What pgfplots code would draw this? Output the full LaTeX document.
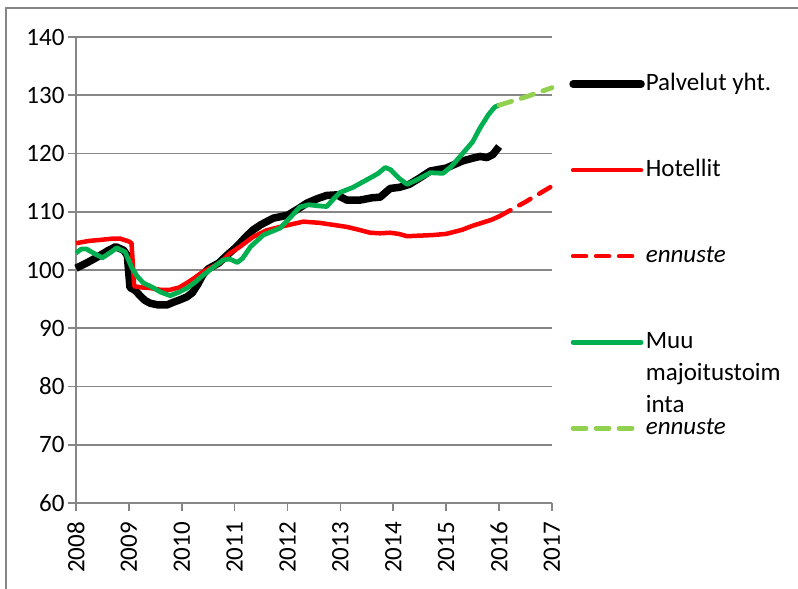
\documentclass[border=0pt]{standalone}
\usepackage{pgfplots}
\pgfplotsset{compat=1.18}
\usepackage{fontspec}
\setmainfont{Carlito}
\definecolor{gridgray}{RGB}{134,134,134}
\definecolor{exgreen}{RGB}{0,176,80}
\definecolor{lightgreen}{RGB}{146,208,80}
\begin{document}
\begin{tikzpicture}
\begin{axis}[
  scale only axis, width=476pt, height=466pt,
  xmin=2008, xmax=2017, ymin=60, ymax=140,
  xtick={2008,2009,...,2017}, ytick={60,70,...,140},
  xticklabels={2008,2009,2010,2011,2012,2013,2014,2015,2016,2017},
  /pgf/number format/assume math mode=true,
  axis lines=left,
  axis line style={-, draw=gridgray, line width=1.6pt},
  ymajorgrids, grid style={draw=gridgray, line width=1.6pt},
  tick align=outside, major tick length=8pt,
  tick style={draw=gridgray, line width=1.6pt},
  tick label style={font=\fontsize{25}{30}\selectfont, black},
  xticklabel style={rotate=90, anchor=east, inner sep=0pt},
  xticklabel shift=11pt,
  clip=false,
  legend cell align=left,
  legend image code/.code={\draw[#1, line cap=round] (0pt,0pt) -- (68pt,0pt);},
  legend style={draw=none, fill=none, inner sep=0pt, at={(1.036,0.9227)}, anchor=north west,
    font=\fontsize{25}{33}\selectfont, row sep=64pt, column sep=1pt,
    nodes={inner sep=0pt, text height=17pt, text depth=5pt}},
]
\addplot[black, line width=7.5pt, line join=round] coordinates {
(2008.0,100.3) (2008.2,101.2) (2008.4,102.2) (2008.6,103.3) (2008.75,104.0) (2008.9,103.4) (2008.97,102.5)
(2009.02,97.0) (2009.12,96.5) (2009.2,95.7) (2009.3,94.8) (2009.4,94.3) (2009.55,94.0) (2009.72,94.0)
(2009.85,94.5) (2009.97,94.9) (2010.1,95.4) (2010.2,96.1) (2010.3,97.5) (2010.4,99.2) (2010.5,100.2)
(2010.7,101.2) (2010.85,102.5) (2011.0,103.7) (2011.1,104.6) (2011.2,105.6) (2011.35,106.9) (2011.5,107.8)
(2011.73,108.9) (2012.0,109.4) (2012.2,110.5) (2012.37,111.5) (2012.55,112.2) (2012.74,112.8) (2012.93,112.9)
(2013.12,112.0) (2013.37,112.0) (2013.6,112.4) (2013.75,112.5) (2013.94,114.0) (2014.12,114.2) (2014.3,114.7)
(2014.5,115.8) (2014.7,117.0) (2015.0,117.5) (2015.3,118.7) (2015.5,119.2) (2015.64,119.5) (2015.77,119.3)
(2015.88,119.8) (2016.0,121.2)
};
\addlegendentry{Palvelut yht.}
\addplot[red, line width=4.5pt, line join=round] coordinates {
(2008.0,104.6) (2008.25,105.0) (2008.5,105.2) (2008.7,105.4) (2008.83,105.4) (2009.0,104.9) (2009.05,104.6)
(2009.1,97.2) (2009.25,97.0) (2009.4,96.9) (2009.6,96.6) (2009.78,96.6) (2009.95,97.0) (2010.1,97.8)
(2010.25,98.7) (2010.4,99.7) (2010.55,100.4) (2010.72,101.2) (2010.9,102.8) (2011.1,104.0) (2011.35,105.7)
(2011.6,106.8) (2011.86,107.4) (2012.1,107.9) (2012.3,108.3) (2012.6,108.1) (2012.9,107.7) (2013.12,107.4)
(2013.35,106.9) (2013.56,106.4) (2013.75,106.3) (2013.94,106.4) (2014.1,106.2) (2014.26,105.8) (2014.5,105.9)
(2014.75,106.0) (2015.0,106.2) (2015.3,106.9) (2015.5,107.6) (2015.64,108.0) (2015.85,108.6) (2016.0,109.2)
};
\addlegendentry{Hotellit}
\addplot[red, line width=4.5pt, line cap=round, dash pattern=on 13pt off 10pt] coordinates {
(2016.0,109.2) (2016.5,111.7) (2017.0,114.4)
};
\addlegendentry{\itshape ennuste}
\addplot[exgreen, line width=4.8pt, line join=round] coordinates {
(2008.0,102.9) (2008.1,103.6) (2008.2,103.6) (2008.35,102.8) (2008.5,102.1) (2008.65,103.0) (2008.77,103.8)
(2008.93,103.1) (2009.05,100.5) (2009.15,99.0) (2009.27,97.8) (2009.45,97.0) (2009.6,96.2) (2009.78,95.6)
(2009.95,96.2) (2010.1,96.9) (2010.25,97.9) (2010.4,99.1) (2010.6,100.5) (2010.78,101.7) (2010.9,101.9)
(2011.05,101.3) (2011.15,102.0) (2011.3,104.0) (2011.54,106.0) (2011.7,106.6) (2011.86,107.2) (2012.05,109.0)
(2012.23,110.8) (2012.4,111.2) (2012.6,111.0) (2012.74,110.9) (2012.85,112.0) (2012.99,113.3) (2013.24,114.2)
(2013.5,115.5) (2013.7,116.5) (2013.85,117.6) (2013.95,117.2) (2014.1,115.8) (2014.26,114.7) (2014.45,115.5)
(2014.7,116.7) (2014.94,116.6) (2015.1,117.8) (2015.32,120.1) (2015.5,122.0) (2015.64,124.4) (2015.8,126.7)
(2015.92,128.0) (2016.0,128.3)
};
\addlegendentry{\smash{\parbox[t]{150pt}{\raggedright\fontsize{25}{32}\selectfont Muu\\majoitustoim\\inta}}}
\addplot[lightgreen, line width=4.8pt, line cap=round, dash pattern=on 13pt off 10pt] coordinates {
(2016.0,128.3) (2016.5,129.7) (2017.0,131.3)
};
\addlegendentry{\itshape ennuste}
\end{axis}
\draw[gridgray, line width=1.2pt] (-70pt,-120pt) -- (-70pt,495pt) -- (760pt,495pt);
\pgfresetboundingbox
\path (-76pt,-86pt) rectangle (722pt,503pt);
\end{tikzpicture}
\end{document}
